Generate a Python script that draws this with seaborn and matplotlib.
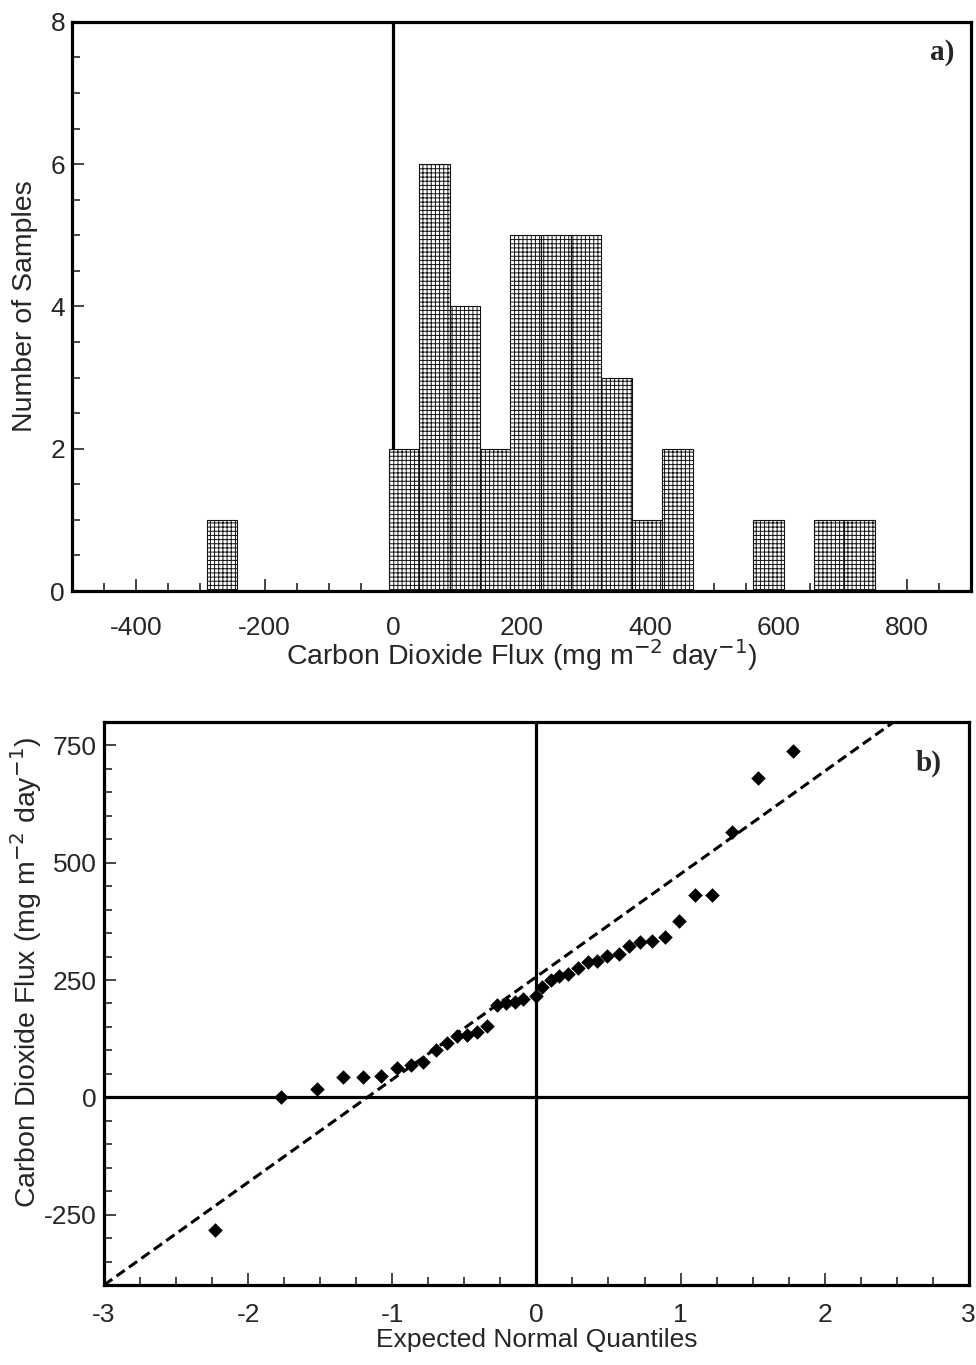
import matplotlib
matplotlib.use("Agg")
import matplotlib.pyplot as plt
import matplotlib.ticker as tik
import seaborn as sns
import numpy as np

#### data
# CO2 flux samples, sorted (mg m-2 day-1)
flux = [-283, 0, 17, 43, 44, 45, 63, 68, 76, 101, 115, 131, 133, 140, 152,
        197, 202, 204, 209, 216, 236, 250, 258, 263, 276, 288, 290, 302, 306,
        322, 331, 334, 342, 375, 431, 432, 565, 681, 739]
# expected normal quantiles of the points in panel b
quantiles = [-2.23, -1.77, -1.52, -1.34, -1.20, -1.08, -0.97, -0.87, -0.79,
             -0.70, -0.62, -0.55, -0.48, -0.41, -0.34, -0.27, -0.21, -0.15,
             -0.09, 0.00, 0.04, 0.10, 0.16, 0.22, 0.29, 0.36, 0.42, 0.49,
             0.57, 0.64, 0.72, 0.80, 0.89, 0.99, 1.10, 1.22, 1.36, 1.54, 1.78]
# histogram bins
bin_lo, bin_hi, n_bins = -290, 750, 22
# reference line of the normal plot
line_x = [-3, 3]
line_intercept, line_slope = 257, 219

sns.set_style("ticks")
plt.rcParams['font.family'] = ['Liberation Sans', 'DejaVu Sans']
plt.rcParams['axes.unicode_minus'] = False
plt.rcParams['hatch.linewidth'] = 0.7

fig = plt.figure(figsize=(9.76, 13.65), dpi=100)
ax1 = fig.add_axes([0.0738, 0.567, 0.921, 0.417])
ax2 = fig.add_axes([0.1066, 0.0586, 0.886, 0.4125])

fs_tick = 19
fs_lab = 20.5
edges = np.linspace(bin_lo, bin_hi, n_bins + 1)

#### panel a) histogram
ax1.axvline(0, color="black", lw=2.3, zorder=1)
sns.histplot(x=flux, bins=edges, ax=ax1, stat="count",
             color="white", edgecolor="#111111", linewidth=0.8,
             hatch="+" * 4, alpha=1, zorder=2)
ax1.set_xlim(-500, 900)
ax1.set_ylim(0, 8)
ax1.xaxis.set_major_locator(tik.MultipleLocator(200))
ax1.xaxis.set_minor_locator(tik.MultipleLocator(50))
ax1.yaxis.set_major_locator(tik.MultipleLocator(2))
ax1.yaxis.set_minor_locator(tik.MultipleLocator(0.5))
ax1.set_xlabel("Carbon Dioxide Flux (mg m$^{-2}$ day$^{-1}$)", fontsize=fs_lab,
               labelpad=-2)
ax1.set_ylabel("Number of Samples", fontsize=fs_lab)
ax1.yaxis.set_label_coords(-0.038, 0.5)
ax1.text(0.982, 0.947, "a)", transform=ax1.transAxes, ha="right", va="center",
         fontsize=21, fontweight="bold", family="Liberation Serif")
ax1.tick_params(axis="x", which="both", pad=18)

#### panel b) normal probability plot
ax2.axhline(0, color="black", lw=2.3, zorder=1)
ax2.axvline(0, color="black", lw=2.3, zorder=1)
line_y = [line_intercept + line_slope * v for v in line_x]
sns.lineplot(x=line_x, y=line_y, ax=ax2, color="black", lw=2.2,
             linestyle=(0, (3.3, 1.7)), zorder=2)
sns.scatterplot(x=quantiles, y=flux, ax=ax2, marker="D", color="black",
                s=55, linewidth=0, zorder=3)
ax2.set_xlim(-3, 3)
ax2.set_ylim(-400, 800)
ax2.xaxis.set_major_locator(tik.MultipleLocator(1))
ax2.xaxis.set_minor_locator(tik.MultipleLocator(0.25))
ax2.yaxis.set_major_locator(tik.MultipleLocator(250))
ax2.yaxis.set_minor_locator(tik.MultipleLocator(50))
ax2.set_xlabel("Expected Normal Quantiles", fontsize=19, labelpad=1)
ax2.set_ylabel("Carbon Dioxide Flux (mg m$^{-2}$ day$^{-1}$)", fontsize=fs_lab)
ax2.yaxis.set_label_coords(-0.070, 0.556)
ax2.text(0.969, 0.927, "b)", transform=ax2.transAxes, ha="right", va="center",
         fontsize=21, fontweight="bold", family="Liberation Serif")
ax2.tick_params(axis="x", which="both", pad=13)

for ax in (ax1, ax2):
    for s in ax.spines.values():
        s.set_visible(True)
        s.set_linewidth(2.3)
        s.set_color("black")
    ax.tick_params(which="major", direction="in", length=8.5, width=1.2,
                   labelsize=fs_tick, top=False, right=False)
    ax.tick_params(which="minor", direction="in", length=6, width=1.2,
                   top=False, right=False)
    ax.tick_params(axis="y", which="both", pad=5)

plt.savefig("out.png", dpi=100)
